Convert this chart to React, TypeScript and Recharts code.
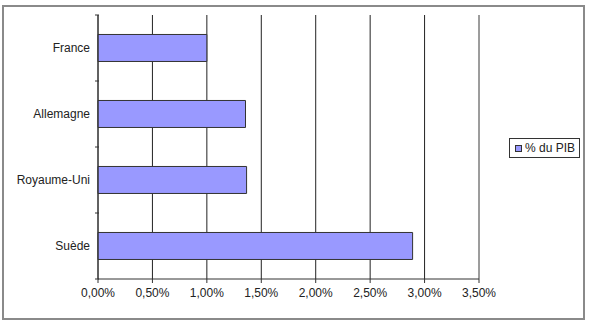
import React from 'react';
import { BarChart, Bar, XAxis, YAxis, CartesianGrid, ReferenceLine, Legend } from 'recharts';

// Data
const countries = ['France', 'Allemagne', 'Royaume-Uni', 'Suède'];
const pibShare = [1.0, 1.355, 1.365, 2.89];
const xTicks = [0, 0.5, 1, 1.5, 2, 2.5, 3, 3.5];
const seriesName = '% du PIB';

const data = countries.map((name, i) => ({ name, value: pibShare[i] }));

const FONT = 'Liberation Sans, Arial, sans-serif';
const BAR_FILL = '#9999ff';
const INK = '#222';

const formatPct = (v: number) => v.toFixed(2).replace('.', ',') + '%';

// Category label with tick marks on band edges (Excel style)
function CategoryTick(props: any) {
  const { x, y, payload, index } = props;
  const half = payload && payload.offset ? payload.offset : 33;
  const axisX = x + 9;
  return (
    <g>
      <text
        x={x}
        y={y}
        dy={4}
        textAnchor="end"
        fontSize={12}
        fontFamily={FONT}
        fill={INK}
      >
        {payload.value}
      </text>
      {index === 0 && (
        <line x1={axisX - 4} x2={axisX} y1={y - half} y2={y - half} stroke="#333" />
      )}
      <line x1={axisX - 4} x2={axisX} y1={y + half} y2={y + half} stroke="#333" />
    </g>
  );
}

function LegendBox() {
  return (
    <div
      style={{
        width: 69,
        height: 18,
        border: '1px solid #333',
        background: '#fff',
        display: 'flex',
        alignItems: 'center',
        fontFamily: FONT,
        fontSize: 12,
        color: INK,
        boxSizing: 'content-box',
      }}
    >
      <span
        style={{
          display: 'inline-block',
          width: 5,
          height: 5,
          background: BAR_FILL,
          border: '1px solid #333',
          marginLeft: 5,
          marginRight: 3,
        }}
      />
      {seriesName}
    </div>
  );
}

export default function App() {
  return (
    <div style={{ position: 'absolute', left: 0, top: 0, width: 589, height: 320, background: '#fff' }}>
      <div
        style={{
          position: 'absolute',
          left: 2,
          top: 5,
          width: 579,
          height: 311,
          border: '2px solid #8a8a8a',
        }}
      />
      <BarChart
        width={589}
        height={320}
        data={data}
        layout="vertical"
        margin={{ top: 15, right: 39, bottom: 11, left: 8 }}
        barCategoryGap="29.5%"
        style={{ position: 'absolute', left: 0, top: 0 }}
      >
        <CartesianGrid horizontal={false} vertical stroke="#222" strokeDasharray="" />
        <XAxis
          type="number"
          domain={[0, 3.5]}
          ticks={xTicks}
          tickFormatter={formatPct}
          interval={0}
          height={30}
          axisLine={{ stroke: '#333' }}
          tickLine={{ stroke: '#333' }}
          tickSize={4}
          tickMargin={5}
          tick={{ fontSize: 12, fontFamily: FONT, fill: INK }}
        />
        <YAxis
          type="category"
          dataKey="name"
          width={90}
          axisLine={{ stroke: '#333' }}
          tickLine={false}
          tick={<CategoryTick />}
          interval={0}
        />
        <ReferenceLine x={3.5} stroke="#a8a8a8" strokeWidth={1} />
        <Legend
          content={<LegendBox />}
          layout="vertical"
          align="right"
          verticalAlign="middle"
          wrapperStyle={{ position: 'absolute', left: 509, top: 138, width: 71 }}
        />
        <Bar
          dataKey="value"
          name={seriesName}
          fill={BAR_FILL}
          stroke="#333"
          strokeWidth={1}
          isAnimationActive={false}
        />
      </BarChart>
    </div>
  );
}
